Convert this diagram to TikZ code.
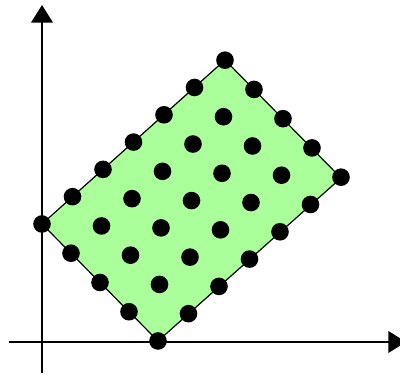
\documentclass[tikz,border=0pt]{standalone}
\usetikzlibrary{arrows.meta}
\definecolor{regiongreen}{RGB}{170,255,155}
\begin{document}
\begin{tikzpicture}[x=0.25mm,y=0.25mm,
  dot/.style={circle,fill=black,inner sep=0pt,minimum size=4.4mm},
  axis/.style={-{Triangle[length=4.4mm,width=5.4mm]},line width=0.4mm}]
\useasboundingbox (0,0) rectangle (400,375);
% axes
\coordinate (xs) at (9,33);
\coordinate (xe) at (406,33);
\coordinate (ys) at (42,2);
\coordinate (ye) at (42,370);
\draw[axis] (xs) -- (xe);
\draw[axis] (ys) -- (ye);
% region
\coordinate (L) at (42,151);
\coordinate (T) at (225,315);
\coordinate (R) at (341,197);
\coordinate (B) at (158,34);
\filldraw[fill=regiongreen,line width=0.3mm] (L) -- (T) -- (R) -- (B) -- cycle;
% lattice points
\foreach \i in {0,...,6}
  \foreach \j in {0,...,4}
    \node[dot] (p\i\j) at ({42+30.5*\i+29*\j},{151+27.3*\i-29.25*\j}) {};
\end{tikzpicture}
\end{document}
